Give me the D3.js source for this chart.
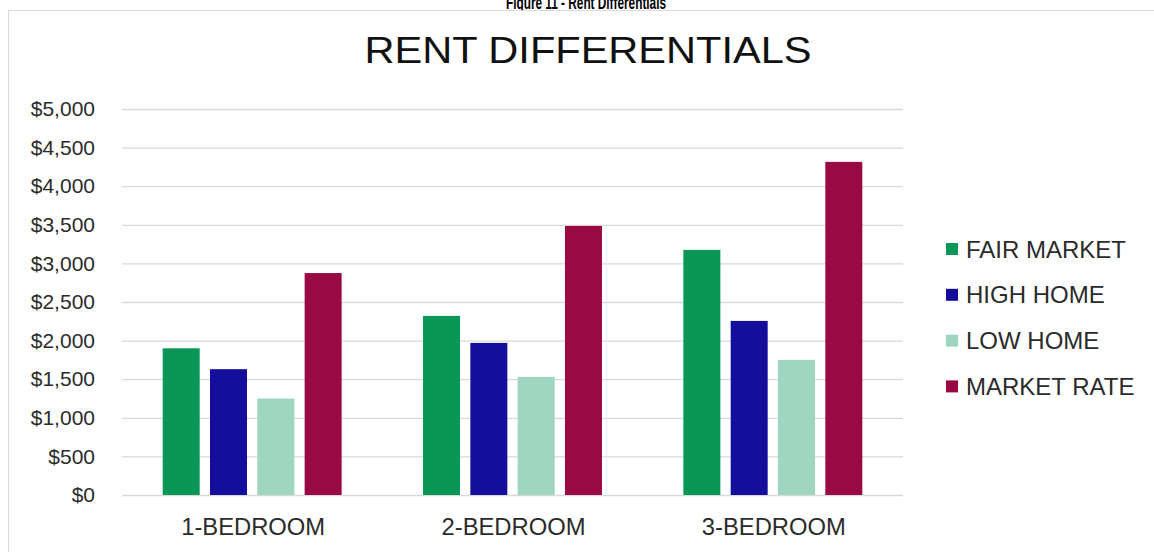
<!DOCTYPE html>
<html>
<head>
<meta charset="utf-8">
<script src="https://cdn.jsdelivr.net/npm/d3@7"></script>
<style>
  html, body { margin: 0; padding: 0; background: #fff; }
  svg { display: block; font-family: "Liberation Sans", Arial, sans-serif; }
</style>
</head>
<body>
<svg id="chart" width="1154" height="552"></svg>
<script>
// Average monthly rents by unit size
const categories = ["1-BEDROOM", "2-BEDROOM", "3-BEDROOM"];
const seriesNames = ["FAIR MARKET", "HIGH HOME", "LOW HOME", "MARKET RATE"];
const fairMarket = [1900, 2320, 3175];
const highHome   = [1630, 1970, 2255];
const lowHome    = [1250, 1530, 1750];
const marketRate = [2875, 3485, 4315];
const yTicks = [0, 500, 1000, 1500, 2000, 2500, 3000, 3500, 4000, 4500, 5000];
const seriesColors = ["#0a9657", "#150d9c", "#9fd6bf", "#990a45"];

const seriesValues = [fairMarket, highHome, lowHome, marketRate];

const svg = d3.select("#chart");
const plot = { left: 122, right: 903, top: 109, bottom: 495 };

// Figure caption sitting at the very top edge of the page
svg.append("text")
  .attr("x", 586).attr("y", 9)
  .attr("text-anchor", "middle")
  .attr("font-weight", "bold")
  .attr("font-size", 19)
  .attr("fill", "#000")
  .attr("textLength", 160)
  .attr("lengthAdjust", "spacingAndGlyphs")
  .text("Figure 11 - Rent Differentials");

// Chart frame
svg.append("rect")
  .attr("x", 8.5).attr("y", 10.5)
  .attr("width", 1300).attr("height", 700)
  .attr("fill", "#fff")
  .attr("stroke", "#d9d9d9")
  .attr("stroke-width", 1);

// Title
svg.append("text")
  .attr("x", 588).attr("y", 63)
  .attr("text-anchor", "middle")
  .attr("font-size", 37)
  .attr("fill", "#111")
  .attr("textLength", 447)
  .attr("lengthAdjust", "spacingAndGlyphs")
  .text("RENT DIFFERENTIALS");

const y = d3.scaleLinear().domain([0, 5000]).range([plot.bottom, plot.top]);
const x0 = d3.scaleBand().domain(categories).range([plot.left, plot.right]).paddingInner(0).paddingOuter(0);
const x1 = d3.scaleBand().domain(seriesNames).range([0, x0.bandwidth()]).paddingInner(0.218).paddingOuter(0.86);
const color = d3.scaleOrdinal().domain(seriesNames).range(seriesColors);

// Gridlines and y labels
const yAxis = d3.axisLeft(y)
  .tickValues(yTicks)
  .tickSize(-(plot.right - plot.left))
  .tickPadding(27)
  .tickFormat(d => "$" + d3.format(",")(d));

const gy = svg.append("g")
  .attr("transform", `translate(${plot.left},0)`)
  .call(yAxis);
gy.select(".domain").remove();
gy.selectAll(".tick line").attr("stroke", "#d9d9d9").attr("stroke-width", 1.3);
gy.selectAll(".tick text")
  .attr("font-size", 21)
  .attr("fill", "#2b2b2b")
  .attr("font-family", "'Liberation Sans', Arial, sans-serif");

// Bars
const groups = svg.append("g").selectAll("g")
  .data(categories)
  .join("g")
  .attr("transform", d => `translate(${x0(d)},0)`);

groups.selectAll("rect")
  .data((c, i) => seriesNames.map((s, k) => ({ series: s, value: seriesValues[k][i] })))
  .join("rect")
  .attr("x", d => x1(d.series))
  .attr("width", x1.bandwidth())
  .attr("y", d => y(d.value))
  .attr("height", d => y(0) - y(d.value))
  .attr("fill", d => color(d.series));

// Category labels
const xAxis = d3.axisBottom(x0).tickSize(0).tickPadding(0);
const gx = svg.append("g")
  .attr("transform", `translate(0,${plot.bottom})`)
  .call(xAxis);
gx.select(".domain").remove();
gx.selectAll(".tick text")
  .attr("x", 1)
  .attr("y", 40)
  .attr("dy", 0)
  .attr("font-size", 23)
  .attr("fill", "#2b2b2b")
  .attr("font-family", "'Liberation Sans', Arial, sans-serif")
  .attr("textLength", 144)
  .attr("lengthAdjust", "spacingAndGlyphs");

// Legend
const legend = svg.append("g").selectAll("g")
  .data(seriesNames)
  .join("g")
  .attr("transform", (d, i) => `translate(946,${249 + i * 45.8})`);

legend.append("rect")
  .attr("x", 0).attr("y", -6)
  .attr("width", 12).attr("height", 12)
  .attr("fill", d => color(d));

legend.append("text")
  .attr("x", 20).attr("y", 8.5)
  .attr("font-size", 24)
  .attr("fill", "#2b2b2b")
  .text(d => d);
</script>
</body>
</html>
